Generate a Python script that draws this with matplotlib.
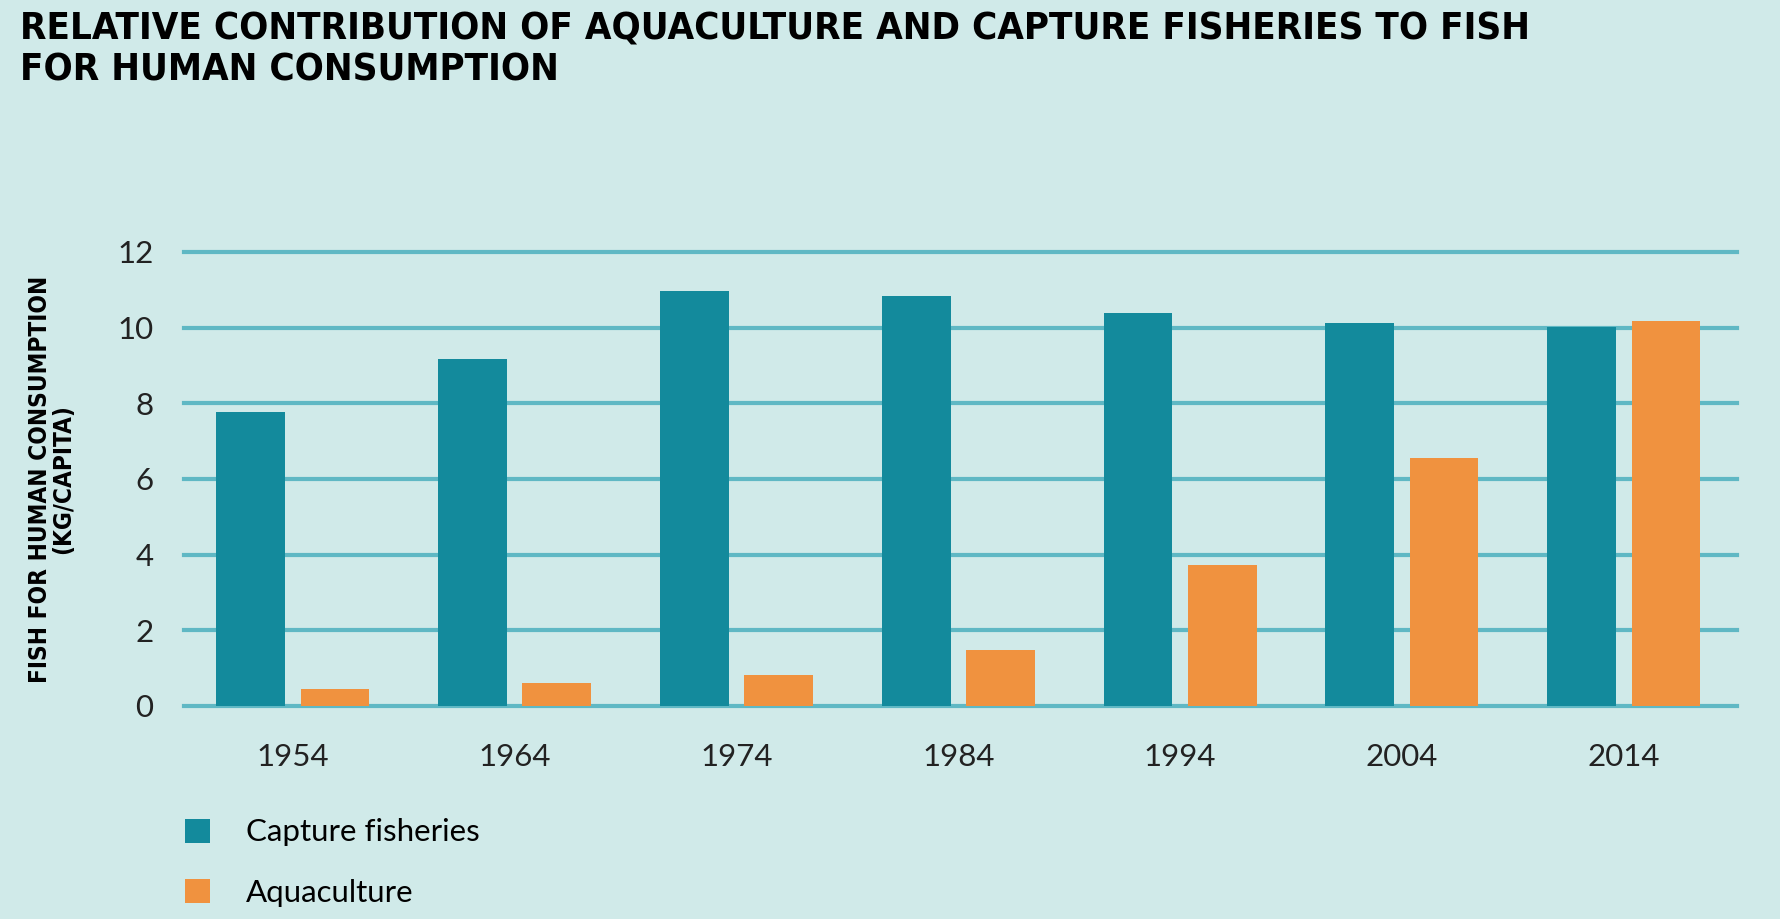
import matplotlib
matplotlib.use('Agg')
import matplotlib.pyplot as plt
import numpy as np

# data
years = ['1954', '1964', '1974', '1984', '1994', '2004', '2014']
capture = [7.78, 9.17, 10.98, 10.84, 10.40, 10.11, 10.03]
aquaculture = [0.46, 0.60, 0.82, 1.47, 3.72, 6.55, 10.18]
yticks = [0, 2, 4, 6, 8, 10, 12]

bg = '#d0eae9'
c_capture = '#138a9c'
c_aqua = '#f0923f'
c_grid = '#5fb8c4'
tick_font = 'Lato'

fig = plt.figure(figsize=(17.8, 9.19), dpi=100, facecolor=bg)
ax = fig.add_axes([0.1034, 0.2318, 0.8724, 0.494])
ax.set_facecolor(bg)

x = np.arange(len(years))
w = 0.31
off = 0.19
b1 = ax.bar(x - off, capture, width=w, color=c_capture, label='Capture fisheries', zorder=3)
b2 = ax.bar(x + off, aquaculture, width=w, color=c_aqua, label='Aquaculture', zorder=3)

ax.set_xlim(-0.49, len(years) - 0.49)
ax.set_ylim(0, 12)
ax.set_yticks(yticks)
ax.set_xticks(x)
ax.set_xticklabels(years)
ax.yaxis.grid(True, color=c_grid, linewidth=3)
for gl in ax.get_ygridlines():
    gl.set_clip_on(False)
ax.set_axisbelow(True)
for s in ax.spines.values():
    s.set_visible(False)
ax.tick_params(axis='both', length=0, labelsize=22.5, colors='#222222')
ax.tick_params(axis='y', pad=22)
ax.tick_params(axis='x', pad=27)
for lab in ax.get_xticklabels() + ax.get_yticklabels():
    lab.set_family(tick_font)

ax.set_ylabel('FISH FOR HUMAN CONSUMPTION\n(KG/CAPITA)', family='DejaVu Sans', fontstretch='condensed',
              fontweight='bold', fontsize=17.5, linespacing=0.95)
ax.yaxis.set_label_coords(-0.07, 0.5)

fig.text(0.011, 0.988, 'RELATIVE CONTRIBUTION OF AQUACULTURE AND CAPTURE FISHERIES TO FISH\nFOR HUMAN CONSUMPTION',
         family='DejaVu Sans', fontstretch='condensed', fontweight='heavy', fontsize=27.5,
         va='top', ha='left', linespacing=1.2, color='black')

leg = fig.legend(handles=[b1, b2], loc='upper left', bbox_to_anchor=(0.088, 0.14),
                 frameon=False, prop={'family': tick_font, 'size': 22.5},
                 handlelength=0.8, handleheight=0.8, handletextpad=1.15, labelspacing=1.05)

fig.savefig('out.png', dpi=100, facecolor=bg)
